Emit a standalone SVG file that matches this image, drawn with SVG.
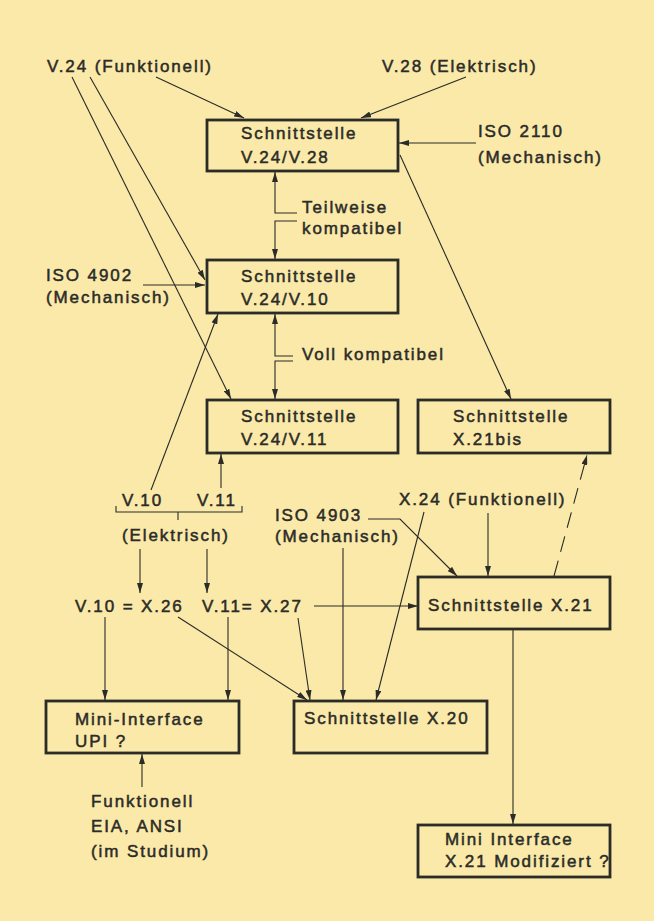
<svg xmlns="http://www.w3.org/2000/svg" width="654" height="921" viewBox="0 0 654 921">
<defs>
<marker id="ah" markerUnits="userSpaceOnUse" markerWidth="10" markerHeight="6" refX="10" refY="3" orient="auto">
<path d="M0,0 L10,3 L0,6 Z" fill="#2b2b28"/>
</marker>
<style>
text{font-family:"Liberation Sans",Arial,sans-serif;font-size:17px;letter-spacing:1.9px;fill:#2b2b28;stroke:#2b2b28;stroke-width:0.5px}
.box{fill:none;stroke:#2b2b28;stroke-width:2.8}
.ln{fill:none;stroke:#2b2b28;stroke-width:1.1}
.arr{marker-end:url(#ah)}
.dash{stroke-dasharray:16 9}
</style>
</defs>
<rect x="0" y="0" width="654" height="921" fill="#FAE9A8"/>

<g id="connectors">
<path class="ln arr" d="M156,77 L244,118"/>
<path class="ln arr" d="M466,77 L361,118"/>
<path class="ln arr" d="M476,143 L399,143"/>
<path class="ln arr" d="M72,77 L231,399"/>
<path class="ln arr" d="M90,77 L205,280"/>
<path class="ln arr" d="M143,285 L205,285"/>
<path class="ln arr" d="M297,213 L275,213 L275,172"/>
<path class="ln arr" d="M297,221 L275,221 L275,259"/>
<path class="ln arr" d="M293,356 L275,356 L275,314"/>
<path class="ln arr" d="M293,361 L275,361 L275,399"/>
<path class="ln arr" d="M400,155 L511,399"/>
<path class="ln arr" d="M151,490 L218,314"/>
<path class="ln arr" d="M221,488 L221,454"/>
<path class="ln" d="M116,506 L116,512 L242,512 L242,506 M178,512 L178,520"/>
<path class="ln arr" d="M140,549 L140,593"/>
<path class="ln arr" d="M207,549 L207,593"/>
<path class="ln arr" d="M105,617 L105,700"/>
<path class="ln arr" d="M228,617 L228,700"/>
<path class="ln arr" d="M178,617 L307,700"/>
<path class="ln arr" d="M298,618 L310,700"/>
<path class="ln arr" d="M343,548 L343,700"/>
<path class="ln arr" d="M424,512 L376,700"/>
<path class="ln arr" d="M314,606 L418,606"/>
<path class="ln arr" d="M368,519 L400,519 L457,576"/>
<path class="ln arr" d="M488,513 L488,576"/>
<path class="ln arr dash" d="M554,576 L587,455"/>
<path class="ln arr" d="M513,630 L513,824"/>
<path class="ln arr" d="M142,787 L142,754"/>
</g>

<g id="lbl-v24"><text x="47" y="72">V.24 (Funktionell)</text></g>
<g id="lbl-v28"><text x="382" y="72">V.28 (Elektrisch)</text></g>
<g id="node-b1">
<rect class="box" x="207" y="120" width="191" height="51"/>
<text x="241" y="139">Schnittstelle</text>
<text x="241" y="163">V.24/V.28</text>
</g>
<g id="lbl-iso2110"><text x="478" y="137">ISO 2110</text><text x="478" y="163">(Mechanisch)</text></g>
<g id="lbl-teilweise"><text x="302" y="213">Teilweise</text><text x="302" y="234">kompatibel</text></g>
<g id="lbl-iso4902"><text x="46" y="281">ISO 4902</text><text x="46" y="303">(Mechanisch)</text></g>
<g id="node-b2">
<rect class="box" x="207" y="260" width="191" height="53"/>
<text x="241" y="282">Schnittstelle</text>
<text x="241" y="305">V.24/V.10</text>
</g>
<g id="lbl-voll"><text x="302" y="360">Voll kompatibel</text></g>
<g id="node-b3">
<rect class="box" x="207" y="400" width="191" height="53"/>
<text x="241" y="422">Schnittstelle</text>
<text x="241" y="445">V.24/V.11</text>
</g>
<g id="node-b4">
<rect class="box" x="418" y="400" width="192" height="53"/>
<text x="453" y="422">Schnittstelle</text>
<text x="453" y="445">X.21bis</text>
</g>
<g id="lbl-v10v11"><text x="122" y="506">V.10</text><text x="197" y="506">V.11</text><text x="122" y="541">(Elektrisch)</text></g>
<g id="lbl-iso4903"><text x="275" y="521">ISO 4903</text><text x="275" y="542">(Mechanisch)</text></g>
<g id="lbl-x24"><text x="399" y="505">X.24 (Funktionell)</text></g>
<g id="lbl-x26"><text x="75" y="612">V.10 = X.26</text></g>
<g id="lbl-x27"><text x="202" y="612">V.11= X.27</text></g>
<g id="node-b5">
<rect class="box" x="418" y="577" width="192" height="52"/>
<text x="428" y="611">Schnittstelle X.21</text>
</g>
<g id="node-b6">
<rect class="box" x="46" y="701" width="193" height="52"/>
<text x="75" y="725">Mini-Interface</text>
<text x="75" y="747">UPI ?</text>
</g>
<g id="node-b7">
<rect class="box" x="294" y="701" width="193" height="52"/>
<text x="304" y="724">Schnittstelle X.20</text>
</g>
<g id="lbl-funk"><text x="91" y="807">Funktionell</text><text x="91" y="832">EIA, ANSI</text><text x="91" y="857">(im Studium)</text></g>
<g id="node-b8">
<rect class="box" x="418" y="825" width="192" height="52"/>
<text x="445" y="845">Mini Interface</text>
<text x="445" y="867">X.21 Modifiziert ?</text>
</g>
</svg>
